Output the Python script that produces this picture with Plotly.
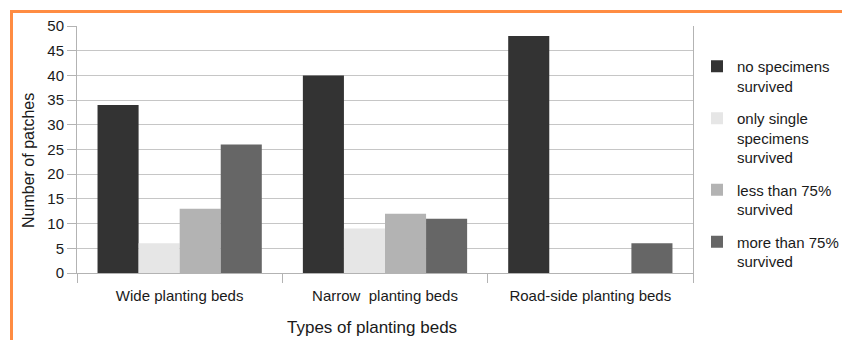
import plotly.graph_objects as go

categories = ["Wide planting beds", "Narrow  planting beds", "Road-side planting beds"]
series_names = [
    "no specimens<br>survived",
    "only single<br>specimens<br>survived",
    "less than 75%<br>survived",
    "more than 75%<br>survived",
]
no_survived = [34, 40, 48]
single_survived = [6, 9, 0]
less_75 = [13, 12, 0]
more_75 = [26, 11, 6]
series_values = [no_survived, single_survived, less_75, more_75]
series_colors = ["#333333", "#e6e6e6", "#b3b3b3", "#666666"]
y_ticks = [0, 5, 10, 15, 20, 25, 30, 35, 40, 45, 50]

W, H = 842, 340
L, R, T, B = 77, 149, 26, 67
pw, ph = W - L - R, H - T - B

def px(x):
    return (x - L) / pw

def py(y):
    return (H - B - y) / ph

fig = go.Figure()
for i, (name, vals, col) in enumerate(zip(series_names, series_values, series_colors)):
    fig.add_trace(go.Bar(
        x=categories, y=vals, name=name,
        marker=dict(color=col, line=dict(width=0)),
        legendgroup=f"g{i}",
    ))

font = dict(family="Liberation Sans, Arial, sans-serif", color="#1a1a1a")

fig.update_layout(
    width=W, height=H,
    margin=dict(l=L, r=R, t=T, b=B, autoexpand=False),
    paper_bgcolor="white", plot_bgcolor="white",
    barmode="group", bargap=0.2, bargroupgap=0,
    font=dict(**font, size=15),
    showlegend=True,
    legend=dict(
        x=px(697), y=py(50), xanchor="left", yanchor="top",
        font=dict(**font, size=15),
        traceorder="grouped", tracegroupgap=10, valign="top",
        bgcolor="rgba(0,0,0,0)", itemwidth=30,
    ),
    xaxis=dict(
        type="category", tickson="boundaries", ticks="outside", ticklen=9,
        tickcolor="#b3b3b3", showline=True, linecolor="#b3b3b3", linewidth=1,
        showgrid=False, tickfont=dict(**font, size=15), ticklabelstandoff=9,
    ),
    yaxis=dict(
        range=[0, 50], tickvals=y_ticks, ticks="outside", ticklen=9,
        tickcolor="#b3b3b3", showline=True, linecolor="#b3b3b3", linewidth=1,
        mirror=True, showgrid=True, gridcolor="#c6c6c6", gridwidth=1,
        zeroline=False, tickfont=dict(**font, size=15),
    ),
    annotations=[
        dict(text="Number of patches", xref="paper", yref="paper",
             x=px(29), y=py(161), xanchor="center", yanchor="middle",
             textangle=-90, showarrow=False, font=dict(**font, size=16)),
        dict(text="Types of planting beds", xref="paper", yref="paper",
             x=px(372), y=py(327), xanchor="center", yanchor="middle",
             showarrow=False, font=dict(**font, size=17)),
    ],
    shapes=[
        dict(type="line", xref="paper", yref="paper",
             x0=px(11), x1=px(842), y0=py(11.5), y1=py(11.5),
             line=dict(color="#ff8c42", width=3)),
        dict(type="line", xref="paper", yref="paper",
             x0=px(11.5), x1=px(11.5), y0=py(10), y1=py(340),
             line=dict(color="#ff8c42", width=3)),
    ],
)

fig.write_html("out.html")
